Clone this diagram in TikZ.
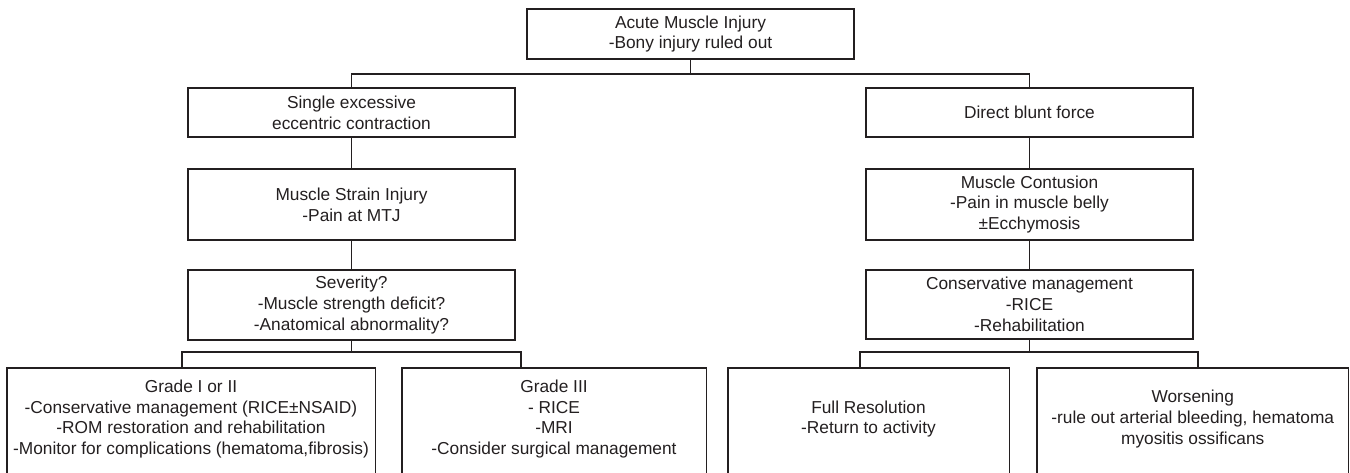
\documentclass[tikz,border=0pt]{standalone}
\usepackage{fontspec}
\setmainfont{Liberation Sans}
\definecolor{ink}{HTML}{231F20}
\begin{document}
\begin{tikzpicture}[x=1pt,y=-1pt,
  lbl/.style={align=center, inner sep=0pt, text=ink, font=\fontsize{17.3}{20.8}\selectfont},
  box/.style={lbl, draw=ink, line width=1.4pt},
  openbox/.style={lbl, draw=none},
  conn/.style={draw=ink, line width=1.4pt}]
\useasboundingbox (0,0) rectangle (1350,472);
\clip (0,0) rectangle (1350,472);
% top
\node[box, minimum width=327pt, minimum height=50pt] (top) at (690.5,34) {Acute Muscle Injury\\-Bony injury ruled out};
% left column
\node[box, minimum width=327pt, minimum height=49pt] (single) at (351.5,112.5) {Single excessive\\eccentric contraction};
\node[box, minimum width=327pt, minimum height=71pt] (strain) at (351.5,204.5) {Muscle Strain Injury\\-Pain at MTJ};
\node[box, minimum width=327pt, minimum height=70pt] (sev) at (351.5,305) {Severity?\\-Muscle strength deficit?\\-Anatomical abnormality?};
% right column
\node[box, minimum width=327pt, minimum height=49pt] (blunt) at (1029.5,112.5) {Direct blunt force};
\node[box, minimum width=327pt, minimum height=71pt] (cont) at (1029.5,204.5) {Muscle Contusion\\-Pain in muscle belly\\±Ecchymosis};
\node[box, minimum width=327pt, minimum height=69pt] (cm) at (1029.5,304.5) {Conservative management\\-RICE\\-Rehabilitation};
% bottom row (boxes run off the bottom edge)
\node[openbox, minimum width=368pt, minimum height=102pt] (g1) at (191,419) {Grade I or II\\-Conservative management (RICE±NSAID)\\-ROM restoration and rehabilitation\\-Monitor for complications (hematoma,fibrosis)};
\node[openbox, minimum width=304pt, minimum height=102pt] (g3) at (554,419) {Grade III\\- RICE\\-MRI\\-Consider surgical management};
\node[openbox, minimum width=281pt, minimum height=102pt] (full) at (868.5,419) {Full Resolution\\-Return to activity};
\node[openbox, minimum width=311.5pt, minimum height=102pt] (worse) at (1192.75,419) {Worsening\\-rule out arterial bleeding, hematoma\\myositis ossificans};
\foreach \n in {g1,g3,full,worse}{
  \draw[conn] ([yshift=-14pt]\n.south west) -- (\n.north west) -- (\n.north east) -- ([yshift=-14pt]\n.south east);
}
% connectors
\coordinate (tb) at (690.5,74);
\draw[conn] (top.south) -- (tb);
\draw[conn] (single.north) |- (tb) -| (blunt.north);
\draw[conn] (single.south) -- (strain.north);
\draw[conn] (strain.south) -- (sev.north);
\draw[conn] (blunt.south) -- (cont.north);
\draw[conn] (cont.south) -- (cm.north);
\coordinate (l1) at (182,352);
\coordinate (l2) at (521,352);
\draw[conn] (sev.south) -- (sev.south |- l1);
\draw[conn] (g1.north -| l1) -- (l1) -- (l2) -- (g3.north -| l2);
\coordinate (r1) at (860,352);
\coordinate (r2) at (1198,352);
\draw[conn] (cm.south) -- (cm.south |- r1);
\draw[conn] (full.north -| r1) -- (r1) -- (r2) -- (worse.north -| r2);
\end{tikzpicture}
\end{document}
